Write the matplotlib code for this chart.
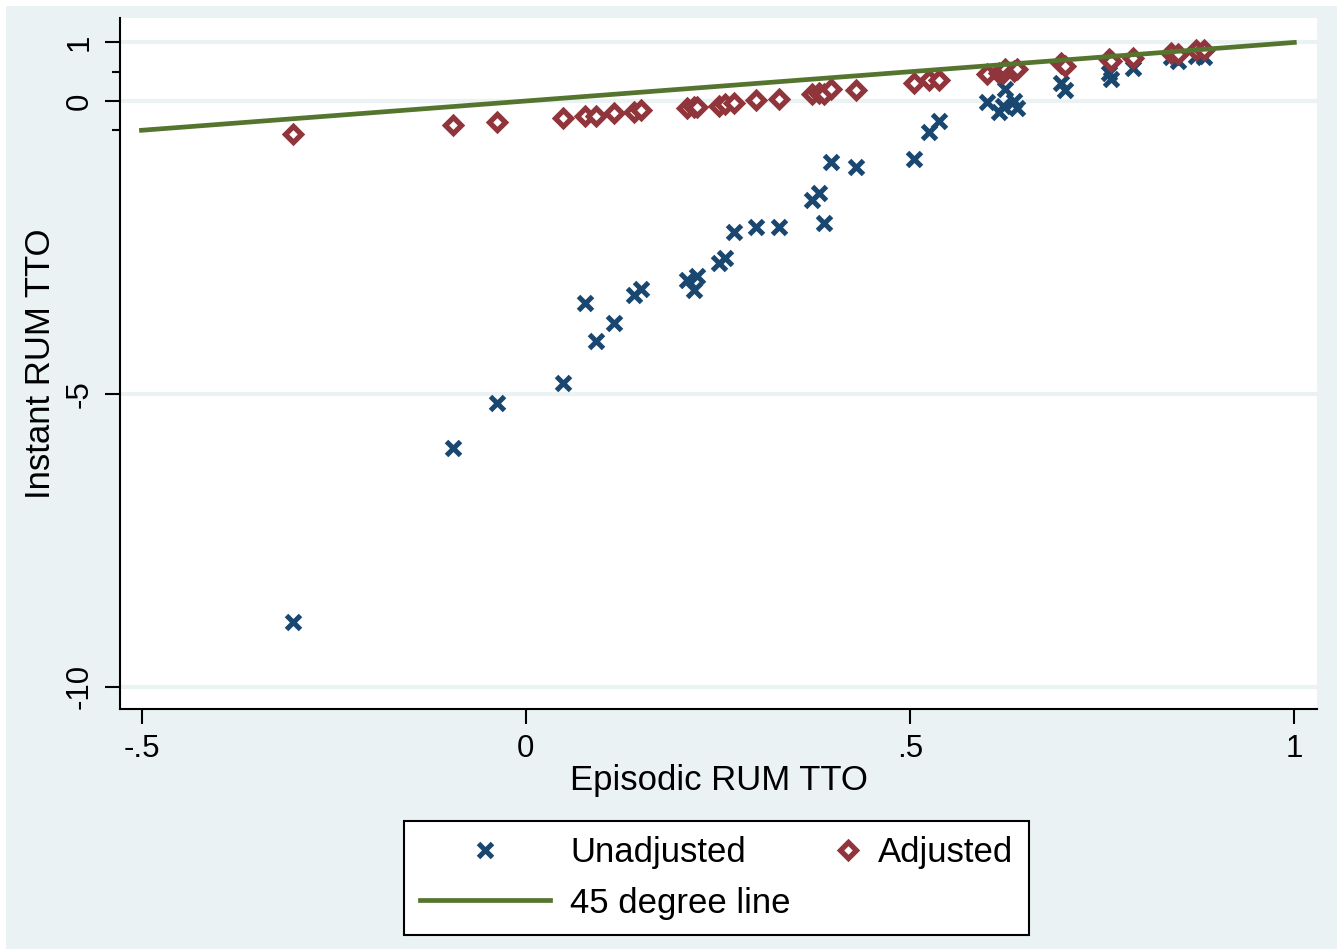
import matplotlib
matplotlib.use('Agg')
import matplotlib.pyplot as plt
from matplotlib.lines import Line2D
from matplotlib.legend_handler import HandlerBase
from matplotlib.patches import Rectangle

plt.rcParams['font.family'] = ['Liberation Sans', 'DejaVu Sans']

# episodic RUM TTO (x) with the two instant RUM TTO versions (y)
episodic = [-0.303, -0.095, -0.038, 0.048, 0.077, 0.091, 0.115, 0.141, 0.150,
            0.210, 0.219, 0.223, 0.251, 0.259, 0.271, 0.299, 0.329, 0.372,
            0.382, 0.388, 0.397, 0.430, 0.505, 0.525, 0.538, 0.600, 0.616,
            0.621, 0.624, 0.635, 0.639, 0.697, 0.701, 0.759, 0.762, 0.790,
            0.840, 0.849, 0.872, 0.883]
unadjusted = [-8.89, -5.92, -5.15, -4.81, -3.45, -4.10, -3.79, -3.31, -3.21,
              -3.05, -3.23, -2.99, -2.76, -2.68, -2.24, -2.15, -2.15, -1.69,
              -1.57, -2.08, -1.04, -1.13, -0.99, -0.53, -0.34, -0.02, -0.19,
              -0.09, 0.20, 0.00, -0.12, 0.31, 0.19, 0.48, 0.38, 0.56,
              0.75, 0.68, 0.77, 0.75]
adjusted = [-0.56, -0.41, -0.36, -0.29, -0.26, -0.26, -0.20, -0.19, -0.15,
            -0.12, -0.10, -0.10, -0.09, -0.05, -0.03, 0.02, 0.03, 0.12,
            0.14, 0.12, 0.20, 0.19, 0.31, 0.36, 0.36, 0.46, 0.48,
            0.48, 0.55, 0.51, 0.55, 0.65, 0.60, 0.72, 0.68, 0.73,
            0.82, 0.80, 0.87, 0.87]
line_x = [-0.5, 1.0]

xticks = [-0.5, 0, 0.5, 1]
xticklabels = ['-.5', '0', '.5', '1']
yticks = [-10, -5, 0, 1]
yticklabels = ['-10', '-5', '0', '1']
yminor = [-0.5, 0.5]

bg = '#EAF2F3'
navy = '#1A476F'
maroon = '#90353B'
green = '#55752F'


class MarkerAt(HandlerBase):
    # put the marker at a chosen fraction of the key width
    def __init__(self, frac=0.5):
        super().__init__()
        self.frac = frac

    def create_artists(self, legend, orig_handle, xdescent, ydescent,
                       width, height, fontsize, trans):
        ln = Line2D([self.frac * width - xdescent], [(height - ydescent) / 2])
        self.update_prop(ln, orig_handle, legend)
        ln.set_linestyle('None')
        ln.set_transform(trans)
        return [ln]


fig = plt.figure(figsize=(13.37, 9.49), dpi=100, facecolor='white')
fig.patches.append(Rectangle((6 / 1337, -0.01), 1, 1.01 - 6 / 949, transform=fig.transFigure,
                             facecolor=bg, edgecolor='none', zorder=-5))
ax = fig.add_axes([0.08975, 0.2529, 0.89529, 0.72813])
ax.set_zorder(2)
ax.set_facecolor('white')

h_un, = ax.plot(episodic, unadjusted, linestyle='none', marker='x', ms=9.5, mew=3.6,
                color=navy, zorder=3)
h_adj, = ax.plot(episodic, adjusted, linestyle='none', marker='D', ms=8.6, mew=3.8,
                 markerfacecolor='white', markeredgecolor=maroon, zorder=4)
h_line, = ax.plot(line_x, line_x, color=green, lw=3.4, zorder=5)

ax.set_xlim(-0.528, 1.0295)
ax.set_ylim(-10.38, 1.417)
ax.set_xticks(xticks)
ax.set_xticklabels(xticklabels)
ax.set_yticks(yticks)
ax.set_yticklabels(yticklabels)
ax.set_yticks(yminor, minor=True)

ax.grid(axis='y', which='major', color=bg, lw=3)
ax.set_axisbelow(True)

for s in ['top', 'right']:
    ax.spines[s].set_visible(False)
for s in ['left', 'bottom']:
    ax.spines[s].set_linewidth(1.5)

ax.tick_params(axis='both', which='major', length=11, width=1.5, labelsize=22.5, pad=7)
ax.tick_params(axis='y', which='minor', length=6, width=1.5)
for t in ax.get_yticklabels():
    t.set_rotation(90)
    t.set_va('center')

ax.set_xlabel('Episodic RUM TTO', fontsize=25, labelpad=0)
ax.set_ylabel('Instant RUM TTO', fontsize=25, labelpad=6)

leg = ax.legend([h_un, h_line, h_adj], ['Unadjusted', '45 degree line', 'Adjusted'],
                ncol=2, loc='center', bbox_to_anchor=(0.536, 0.075),
                bbox_transform=fig.transFigure, fontsize=25, frameon=True,
                fancybox=False, edgecolor='black', framealpha=1,
                handlelength=3.75, handletextpad=0.58, columnspacing=-1.8,
                borderpad=0.45, labelspacing=0.5, borderaxespad=0,
                handler_map={h_un: MarkerAt(0.5), h_adj: MarkerAt(0.92)})
leg.get_frame().set_linewidth(1.5)

fig.savefig('out.png', dpi=100, facecolor=fig.get_facecolor())
